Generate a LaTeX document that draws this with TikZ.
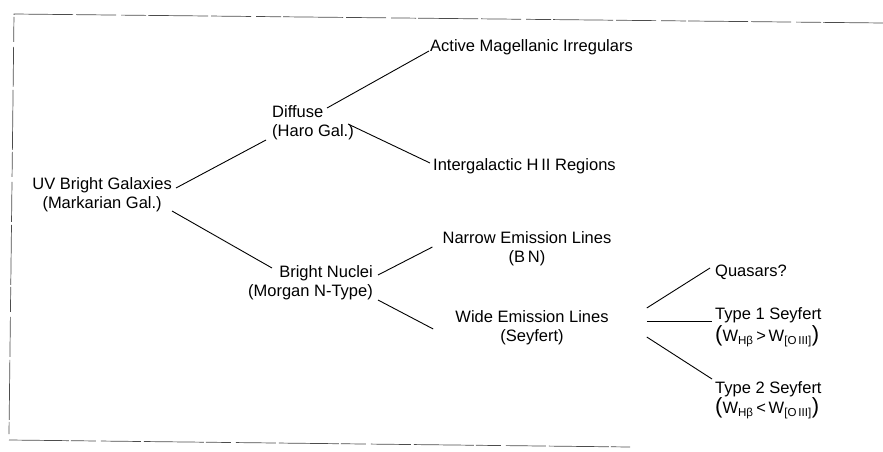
\documentclass[tikz,border=0pt]{standalone}
\usepackage{fontspec}
\setmainfont{Liberation Sans}
\usetikzlibrary{calc}
\newcommand{\tallparen}[1]{{\fontsize{22}{22}\selectfont #1}}

\begin{document}
\begin{tikzpicture}[x=1pt, y=-1pt,
    branch/.style={line width=0.9pt},
    label text/.style={inner sep=3pt, font=\fontsize{16.5}{19}\selectfont},
    frame/.style={line width=0.7pt, black!70, dash pattern=on 60pt off 2pt on 25pt off 5pt on 40pt off 3pt}]
				\useasboundingbox (0,0) rectangle (883,452);
				
				% frame of the scanned page
				\coordinate (top right) at (883,23);
				\coordinate (top left) at (14,14);
				\coordinate (left end) at (9,434);
				\coordinate (bottom left) at (9,440);
				\coordinate (bottom right) at (630,447);
				\draw[frame] (top right) -- (top left) -- (left end);
				\draw[frame] (bottom left) -- (bottom right);
				
				% classes
				\node[label text, anchor=east, align=center] (uv) at (175,195) {UV Bright Galaxies\\(Markarian Gal.)};
				\node[label text, anchor=west, align=left] (diffuse) at (269,123) {Diffuse\\(Haro Gal.)};
				\node[label text, anchor=east, align=right] (nuclei) at (376,283) {Bright Nuclei\\(Morgan N-Type)};
				
				% sub-classes
				\node[label text, anchor=west] (active) at (427,47) {Active Magellanic Irregulars};
				\node[label text, anchor=west] (inter) at (430,166) {Intergalactic H\,II Regions};
				\node[label text, align=center] (narrow) at (527,249) {Narrow Emission Lines\\(B\,N)};
				\node[label text, align=center] (wide) at (532,328) {Wide Emission Lines\\(Seyfert)};
				
				% Seyfert types
				\node[label text, anchor=west] (quasars) at (712,272) {Quasars?};
				\node[label text, anchor=west, align=left] (type1) at (712,327) {Type 1 Seyfert\\[2pt]\tallparen{(}W\textsubscript{Hβ}\,>\,W\textsubscript{[O\,III]}\tallparen{)}};
				\node[label text, anchor=west, align=left] (type2) at (712,400) {Type 2 Seyfert\\\tallparen{(}W\textsubscript{Hβ}\,<\,W\textsubscript{[O\,III]}\tallparen{)}};
				
				% branches
				\draw[branch] ($(uv.east)+(1,-7)$) -- ($(diffuse.west)+(-3,17)$);
				\draw[branch] ($(uv.east)+(-3,16)$) -- ($(nuclei.east)+(-104,-15)$);
				\draw[branch] ($(diffuse.west)+(58,-15)$) -- ($(active.west)+(2,4)$);
				\draw[branch] ($(diffuse.west)+(79,1)$) -- ($(inter.west)+(0,-3)$);
				\draw[branch] ($(nuclei.east)+(2,-8)$) -- ($(narrow.west)+(-7,-2)$);
				\draw[branch] ($(nuclei.east)+(2,17)$) -- ($(wide.west)+(-19,1)$);
				\draw[branch] ($(wide.east)+(35,-20)$) -- ($(quasars.west)+(-2,-4)$);
				\draw[branch] ($(wide.east)+(35,-7)$) -- ($(type1.west)+(0,-6)$);
				\draw[branch] ($(wide.east)+(35,9)$) -- ($(type2.west)+(0,-21)$);
			\end{tikzpicture}
\end{document}
